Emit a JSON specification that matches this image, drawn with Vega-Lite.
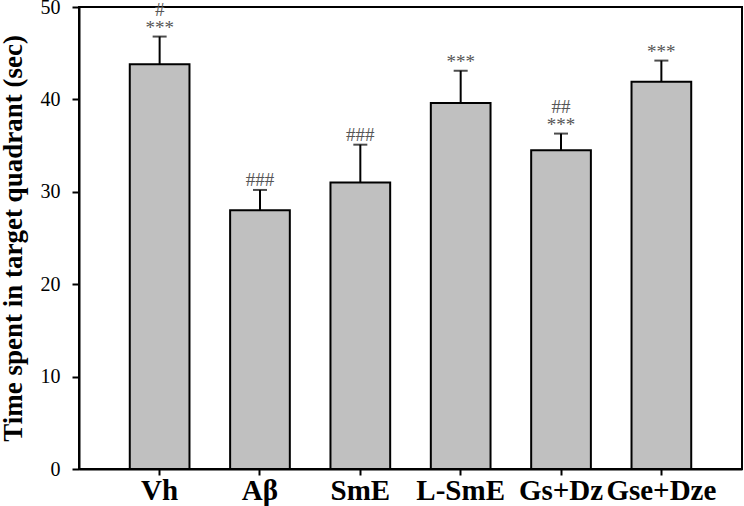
{
  "$schema": "https://vega.github.io/schema/vega-lite/v6.json",
  "autosize": "none",
  "width": 663,
  "height": 462,
  "padding": {"left": 79, "top": 7, "right": 2, "bottom": 37},
  "background": "white",
  "config": {
    "font": "Liberation Serif",
    "view": {"stroke": "black", "strokeWidth": 2}
  },
  "data": {
    "values": [
      {"group": "Vh", "mean": 43.8, "upper": 46.8, "stars": "***", "hash": "#"},
      {"group": "Aβ", "mean": 28.0, "upper": 30.2, "stars": "", "hash": "###"},
      {"group": "SmE", "mean": 31.0, "upper": 35.1, "stars": "", "hash": "###"},
      {"group": "L-SmE", "mean": 39.6, "upper": 43.1, "stars": "***", "hash": ""},
      {"group": "Gs+Dz", "mean": 34.5, "upper": 36.3, "stars": "***", "hash": "##"},
      {"group": "Gse+Dze", "mean": 41.9, "upper": 44.2, "stars": "***", "hash": ""}
    ]
  },
  "encoding": {
    "x": {
      "field": "group",
      "type": "nominal",
      "sort": null,
      "scale": {"paddingInner": 0.405, "paddingOuter": 0.506},
      "axis": {
        "title": null,
        "labelAngle": 0,
        "labelFont": "Liberation Serif",
        "labelFontWeight": "bold",
        "labelFontSize": 29,
        "labelColor": "black",
        "labelPadding": 1,
        "labelOverlap": false,
        "labelBaseline": "top",
        "tickSize": 6,
        "tickWidth": 2,
        "tickColor": "black",
        "domainColor": "black",
        "domainWidth": 2
      }
    }
  },
  "layer": [
    {
      "mark": {"type": "bar", "fill": "#c0c0c0", "stroke": "black", "strokeWidth": 2},
      "encoding": {
        "y": {
          "field": "mean",
          "type": "quantitative",
          "scale": {"domain": [0, 50], "nice": false},
          "axis": {
            "title": "Time spent in target quadrant (sec)",
            "titleFont": "Liberation Serif",
            "titleFontWeight": "bold",
            "titleFontSize": 27,
            "titleColor": "black",
            "titlePadding": 13,
            "values": [0, 10, 20, 30, 40, 50],
            "labelFont": "Liberation Serif",
            "labelFontSize": 20,
            "labelColor": "black",
            "labelPadding": 12,
            "tickSize": 7,
            "tickWidth": 2,
            "tickColor": "black",
            "domainColor": "black",
            "domainWidth": 2,
            "grid": false
          }
        }
      }
    },
    {
      "mark": {"type": "rule", "color": "black", "strokeWidth": 2},
      "encoding": {
        "y": {"field": "mean", "type": "quantitative"},
        "y2": {"field": "upper"}
      }
    },
    {
      "mark": {"type": "tick", "color": "black", "thickness": 2, "size": 14},
      "encoding": {
        "y": {"field": "upper", "type": "quantitative"}
      }
    },
    {
      "transform": [{"filter": "datum.stars != ''"}],
      "mark": {
        "type": "text",
        "font": "Liberation Serif",
        "fontSize": 19,
        "color": "#555555",
        "baseline": "alphabetic",
        "dy": -3
      },
      "encoding": {
        "y": {"field": "upper", "type": "quantitative"},
        "text": {"field": "stars"}
      }
    },
    {
      "transform": [{"filter": "datum.hash != '' && datum.stars == ''"}],
      "mark": {
        "type": "text",
        "font": "Liberation Serif",
        "fontSize": 19,
        "color": "#555555",
        "baseline": "alphabetic",
        "dy": -4
      },
      "encoding": {
        "y": {"field": "upper", "type": "quantitative"},
        "text": {"field": "hash"}
      }
    },
    {
      "transform": [{"filter": "datum.hash != '' && datum.stars != ''"}],
      "mark": {
        "type": "text",
        "font": "Liberation Serif",
        "fontSize": 19,
        "color": "#555555",
        "baseline": "alphabetic",
        "dy": -21
      },
      "encoding": {
        "y": {"field": "upper", "type": "quantitative"},
        "text": {"field": "hash"}
      }
    }
  ]
}
